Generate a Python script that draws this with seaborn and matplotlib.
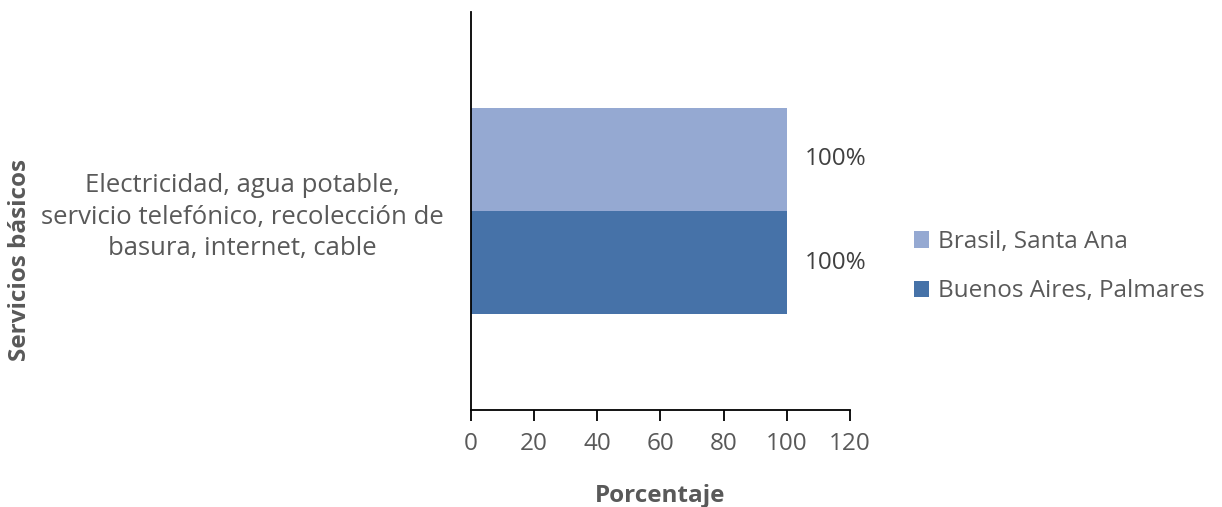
import pandas as pd
import seaborn as sns
import matplotlib.pyplot as plt

categories = ["Electricidad, agua potable,\nservicio telefónico, recolección de\nbasura, internet, cable"]
series = ["Brasil, Santa Ana", "Buenos Aires, Palmares"]
values_brasil = [100]
values_buenos = [100]
xticks = [0, 20, 40, 60, 80, 100, 120]

df = pd.DataFrame({
    "cat": categories * 2,
    "serie": [series[0]] * len(values_brasil) + [series[1]] * len(values_buenos),
    "valor": values_brasil + values_buenos,
})

sns.set_style("white")
plt.rcParams['font.family'] = ['Open Sans', 'DejaVu Sans']
gray = "#595959"
fs = 17.5

fig = plt.figure(figsize=(12.22, 5.07), dpi=100)
ax = fig.add_axes([0.3854, 0.1913, 0.3102, 0.785])

sns.barplot(data=df, y="cat", x="valor", hue="serie", orient="h",
            palette=["#95A9D2", "#4672A8"], width=0.52, ax=ax,
            saturation=1, linewidth=0, legend=True)

for cont in ax.containers:
    ax.bar_label(cont, labels=[f"{v:.0f}%" for v in cont.datavalues],
                 padding=13, fontsize=fs, color="#404040")

ax.set_xlim(0, 120)
ax.set_xticks(xticks)
ax.set_ylim(0.5, -0.5)
ax.tick_params(axis="x", bottom=True, direction="out", length=8, width=1.3,
               color="black", labelsize=fs, labelcolor=gray, pad=8)
ax.tick_params(axis="y", left=False, labelsize=18.5, labelcolor=gray, pad=16)
for lbl in ax.get_yticklabels():
    lbl.set_ha("right")
    lbl.set_multialignment("center")
    lbl.set_linespacing(1.33)

for s in ["top", "right"]:
    ax.spines[s].set_visible(False)
for s in ["left", "bottom"]:
    ax.spines[s].set_color("black")
    ax.spines[s].set_linewidth(1.3)

ax.set_xlabel("Porcentaje", fontsize=fs, fontweight="bold", color=gray, labelpad=20)
ax.set_ylabel("")
fig.text(0.016, 0.487, "Servicios básicos", rotation=90, fontsize=fs,
         fontweight="bold", color=gray, ha="center", va="center")

leg = ax.legend(loc="center left", bbox_to_anchor=(1.11, 0.36), frameon=False,
                fontsize=fs, labelcolor=gray, handlelength=0.65, handleheight=0.65,
                handletextpad=0.35, labelspacing=1.05)

fig.savefig("out.png", dpi=100)
